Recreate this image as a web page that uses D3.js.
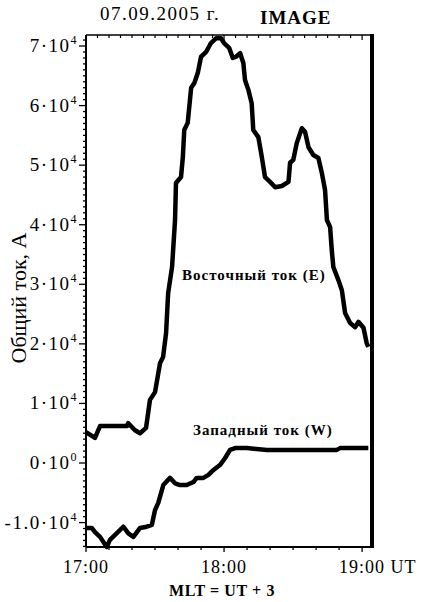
<!DOCTYPE html>
<html>
<head>
<meta charset="utf-8">
<script src="https://cdn.jsdelivr.net/npm/d3@7"></script>
<style>
  body { margin: 0; background: #fff; }
  svg { display: block; }
  text { font-family: "Liberation Serif", "Times New Roman", serif; fill: #000; }
</style>
</head>
<body>
<svg id="chart" width="422" height="602"></svg>
<script>
// minutes after 17:00 UT, current in units of 1e4 A
const eastTime = [0, 3.9, 6.1, 17.8, 18.3, 21.3, 23.5, 26.1, 27.8, 30, 32.2, 33.5, 34.8, 35.7, 37.4, 38.7,
    39.1, 41.3, 42.1, 42.7, 44.2, 45.7, 47.1, 48.6, 50, 52.2, 54.3, 56.5, 58.7, 60, 62.2, 63.8, 65.2, 67,
    68.4, 69.1, 70.6, 72, 72.7, 74.9, 76.4, 77.8, 80, 82.2, 85.1, 88, 88.7, 90.1, 91.6, 93.8, 95.2, 96.7,
    98.8, 101, 102.5, 103.9, 104.7, 106.1, 106.8, 107.5, 109.7, 111.2, 112.6, 114.8, 117, 118.4, 120.6,
    122, 122.7];
const eastCurrent = [0.52, 0.42, 0.62, 0.62, 0.67, 0.55, 0.50, 0.59, 1.06, 1.19, 1.68, 1.78, 2.18, 2.85,
    3.29, 4.08, 4.70, 4.80, 5.14, 5.59, 5.71, 6.30, 6.38, 6.55, 6.82, 6.90, 7.05, 7.13, 7.13, 7.05, 6.97,
    6.80, 6.82, 6.88, 6.71, 6.43, 6.26, 6.04, 5.59, 5.47, 5.14, 4.80, 4.72, 4.63, 4.65, 4.72, 5.04, 5.09,
    5.37, 5.62, 5.56, 5.30, 5.17, 5.12, 4.87, 4.58, 4.08, 3.96, 3.58, 3.29, 3.07, 2.90, 2.52, 2.35, 2.28,
    2.37, 2.27, 2.01, 1.95];

const westTime = [0, 2.5, 3.9, 6.1, 9, 10.4, 13.3, 16.2, 18.4, 20.6, 23.5, 26.4, 28.6, 30, 31.4, 33.6,
    36.5, 38.7, 40.9, 43.8, 46.7, 48.1, 51, 53.2, 55.3, 58.3, 60.4, 62.6, 64.8, 69.9, 78.6, 93, 109,
    110.4, 122.7];
const westCurrent = [-1.09, -1.09, -1.16, -1.24, -1.41, -1.29, -1.18, -1.07, -1.18, -1.24, -1.09, -1.07,
    -1.04, -0.79, -0.67, -0.37, -0.25, -0.34, -0.37, -0.37, -0.32, -0.25, -0.25, -0.20, -0.12, -0.03,
    0.08, 0.22, 0.25, 0.25, 0.22, 0.22, 0.22, 0.25, 0.25];

const xTickValues = [0, 60, 120];
const xTickLabels = ["17:00", "18:00", "19:00 UT"];
const yTickValues = [-1, 0, 1, 2, 3, 4, 5, 6, 7];
const yTickMantissa = ["-1.0", "0", "1", "2", "3", "4", "5", "6", "7"];
const yTickExponent = ["4", "0", "4", "4", "4", "4", "4", "4", "4"];

const svg = d3.select("#chart");
const plotLeft = 86, plotRight = 372, plotTop = 35, plotBottom = 547;

const x = d3.scaleLinear().domain([0, 124.3]).range([plotLeft, plotRight]);
const y = d3.scaleLinear().domain([-1.41, 7.185]).range([plotBottom, plotTop]);

// minor ticks
const minor5 = d3.range(0, 125, 5);
const minor10 = d3.range(0, 125, 10);
const minorY = d3.range(-14, 72, 1).map(d => d / 10);

svg.append("g")
    .selectAll("line")
    .data(minor5)
    .join("line")
    .attr("x1", d => x(d)).attr("x2", d => x(d))
    .attr("y1", plotTop).attr("y2", d => plotTop + (d % 60 === 0 ? 5 : 3))
    .attr("stroke", "#000").attr("stroke-width", 1.2);

svg.append("g")
    .selectAll("line")
    .data(minor10)
    .join("line")
    .attr("x1", d => x(d)).attr("x2", d => x(d))
    .attr("y1", plotBottom).attr("y2", d => plotBottom + (d % 60 === 0 ? 5 : 3))
    .attr("stroke", "#000").attr("stroke-width", 1.3);

svg.append("g")
    .selectAll("line")
    .data(minorY)
    .join("line")
    .attr("x1", plotLeft).attr("x2", d => plotLeft - (Math.abs(d - Math.round(d)) < 1e-6 ? 7 : 3))
    .attr("y1", d => y(d)).attr("y2", d => y(d))
    .attr("stroke", "#000").attr("stroke-width", 1.3);

// x tick labels
const xLabels = svg.append("g");
xTickValues.forEach((v, i) => {
    const t = xLabels.append("text")
        .attr("y", 573)
        .attr("font-size", 18)
        .attr("letter-spacing", 1);
    if (i === xTickLabels.length - 1) {
        const probe = t.text("19:00");
        const w = probe.node().getComputedTextLength();
        t.text(xTickLabels[i]).attr("x", x(v) - w / 2).attr("text-anchor", "start");
    } else {
        t.text(xTickLabels[i]).attr("x", x(v)).attr("text-anchor", "middle");
    }
});

// y tick labels
const yLabels = svg.append("g")
    .selectAll("text")
    .data(yTickValues)
    .join("text")
    .attr("x", 78)
    .attr("y", d => y(d) + 6)
    .attr("text-anchor", "end")
    .attr("font-size", 19)
    .attr("letter-spacing", 1.5);
yLabels.append("tspan").text((d, i) => yTickMantissa[i] + "·10");
yLabels.append("tspan")
    .attr("dy", -8)
    .attr("font-size", 12)
    .text((d, i) => yTickExponent[i]);

// frame
svg.append("line").attr("x1", plotLeft).attr("x2", plotRight).attr("y1", plotTop).attr("y2", plotTop)
    .attr("stroke", "#000").attr("stroke-width", 1.5);
svg.append("line").attr("x1", plotLeft).attr("x2", plotRight).attr("y1", plotBottom).attr("y2", plotBottom)
    .attr("stroke", "#000").attr("stroke-width", 1.8);
svg.append("line").attr("x1", plotLeft).attr("x2", plotLeft).attr("y1", plotTop).attr("y2", plotBottom)
    .attr("stroke", "#000").attr("stroke-width", 2);
svg.append("line").attr("x1", plotRight).attr("x2", plotRight).attr("y1", plotTop - 1).attr("y2", plotBottom + 1)
    .attr("stroke", "#000").attr("stroke-width", 4);

// curves
const line = d3.line()
    .x(d => x(d[0]))
    .y(d => y(d[1]));

svg.append("path")
    .datum(d3.zip(eastTime, eastCurrent))
    .attr("fill", "none")
    .attr("stroke", "#000")
    .attr("stroke-width", 4.5)
    .attr("stroke-linejoin", "round")
    .attr("d", line);

svg.append("path")
    .datum(d3.zip(westTime, westCurrent))
    .attr("fill", "none")
    .attr("stroke", "#000")
    .attr("stroke-width", 4.5)
    .attr("stroke-linejoin", "round")
    .attr("d", line);

// annotations
svg.append("text").attr("x", 182).attr("y", 280)
    .attr("font-size", 15).attr("font-weight", "bold")
    .attr("letter-spacing", 1)
    .text("Восточный ток (E)");
svg.append("text").attr("x", 193).attr("y", 435)
    .attr("font-size", 15).attr("font-weight", "bold")
    .attr("letter-spacing", 1)
    .text("Западный ток (W)");

svg.append("text").attr("x", 100).attr("y", 20)
    .attr("font-size", 19)
    .attr("letter-spacing", 1.5)
    .text("07.09.2005 г.");
svg.append("text").attr("x", 260).attr("y", 24)
    .attr("font-size", 19).attr("font-weight", "bold")
    .attr("letter-spacing", 1)
    .text("IMAGE");

svg.append("text").attr("x", 222).attr("y", 596)
    .attr("text-anchor", "middle")
    .attr("font-size", 16).attr("font-weight", "bold")
    .attr("letter-spacing", 0.6)
    .text("MLT = UT + 3");

svg.append("text")
    .attr("transform", "translate(26,298) rotate(-90)")
    .attr("text-anchor", "middle")
    .attr("font-size", 22)
    .text("Общий ток, A");
</script>
</body>
</html>
